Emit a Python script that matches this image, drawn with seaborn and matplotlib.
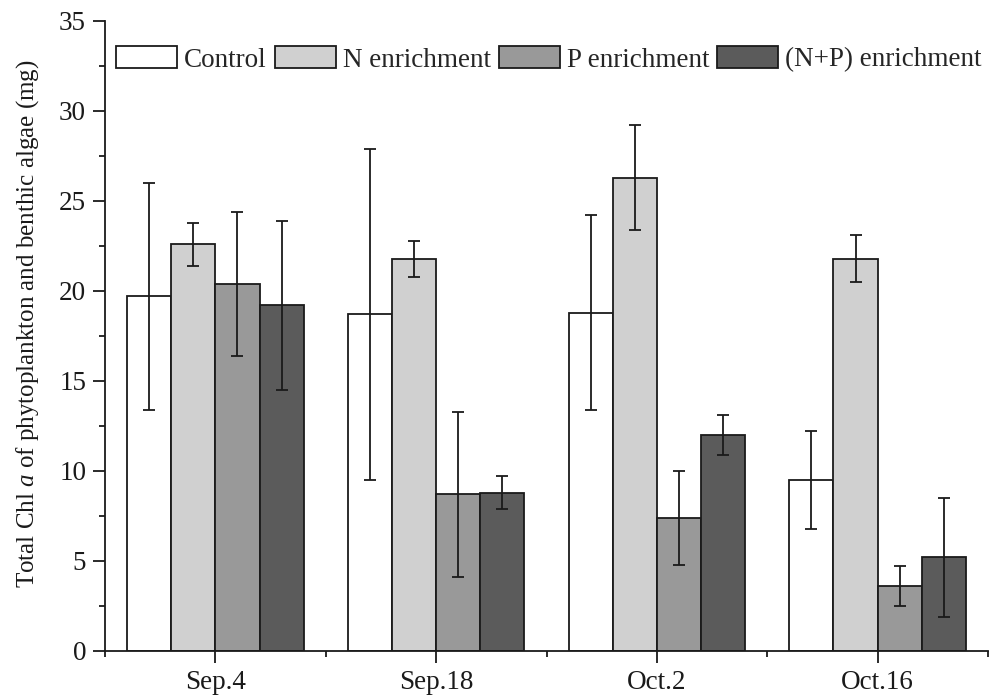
import matplotlib
matplotlib.use("Agg")
import matplotlib.pyplot as plt
import seaborn as sns
import pandas as pd
import numpy as np
from matplotlib.ticker import MultipleLocator, FixedLocator

dates = ["Sep.4", "Sep.18", "Oct.2", "Oct.16"]
treatments = ["Control", "N enrichment", "P enrichment", "(N+P) enrichment"]
control = [19.7, 18.7, 18.8, 9.5]
n_enr = [22.6, 21.8, 26.3, 21.8]
p_enr = [20.4, 8.7, 7.4, 3.6]
np_enr = [19.2, 8.8, 12.0, 5.2]
control_err = [6.3, 9.2, 5.4, 2.7]
n_err = [1.2, 1.0, 2.9, 1.3]
p_err = [4.0, 4.6, 2.6, 1.1]
np_err = [4.7, 0.9, 1.1, 3.3]
colors = ["#ffffff", "#d0d0d0", "#999999", "#5b5b5b"]

vals = [control, n_enr, p_enr, np_enr]
errs = [control_err, n_err, p_err, np_err]
rows = []
for t, v, e in zip(treatments, vals, errs):
    for d, vi, ei in zip(dates, v, e):
        rows.append({"date": d, "treatment": t, "value": vi, "err": ei})
df = pd.DataFrame(rows)

sns.set_theme(style="ticks")
plt.rcParams["font.family"] = ["Liberation Serif", "DejaVu Serif"]
plt.rcParams["mathtext.fontset"] = "custom"
plt.rcParams["mathtext.rm"] = "Liberation Serif"
plt.rcParams["mathtext.it"] = "Liberation Serif:italic"

fig = plt.figure(figsize=(9.93, 6.99), dpi=100)
ax = fig.add_axes([105 / 993, 1 - 651 / 699, (988 - 105) / 993, (651 - 21) / 699])

sns.barplot(data=df, x="date", y="value", hue="treatment", order=dates,
            hue_order=treatments, palette=colors, errorbar=None,
            edgecolor="#1a1a1a", linewidth=1.3, ax=ax, saturation=1, width=0.8)

# error bars at bar centers
bars = [p for p in ax.patches if p.get_height() > 0]
k = 0
for t in treatments:
    sub = df[df.treatment == t].set_index("date").loc[dates]
    for d in dates:
        p = bars[k]
        k += 1
        xc = p.get_x() + p.get_width() / 2
        ax.errorbar(xc, sub.loc[d, "value"], yerr=sub.loc[d, "err"], fmt="none",
                    ecolor="#1a1a1a", elinewidth=1.3, capsize=4.5, capthick=1.3)

ax.set_xlim(-0.5, 3.5)
ax.set_ylim(0, 35)
ax.yaxis.set_major_locator(MultipleLocator(5))
ax.yaxis.set_minor_locator(MultipleLocator(2.5))
ax.xaxis.set_minor_locator(FixedLocator([-0.5, 0.5, 1.5, 2.5, 3.5]))
sns.despine(ax=ax)
for s in ["left", "bottom"]:
    ax.spines[s].set_linewidth(1.3)
    ax.spines[s].set_color("#1a1a1a")
ax.tick_params(axis="both", which="major", length=8.6, width=1.3, direction="out",
               labelsize=19.5, color="#1a1a1a", labelcolor="#1a1a1a", pad=5)
ax.tick_params(axis="both", which="minor", length=4.5, width=1.3, direction="out", color="#1a1a1a")
ax.set_xlabel("")
ax.set_ylabel(r"Total Chl $\mathit{a}$ of phytoplankton and benthic algae (mg)",
              fontsize=18, color="#1a1a1a")
ax.yaxis.set_label_coords(-0.073, 0.519)

handles, labels = ax.get_legend_handles_labels()
ax.legend(handles, labels, ncol=4, loc="upper left", bbox_to_anchor=(0.0, 0.977),
          frameon=False, fontsize=19.5, handlelength=2.25, handleheight=0.85,
          handletextpad=0.26, columnspacing=0.3, borderaxespad=0.0)

fig.savefig("out.png", dpi=100)
